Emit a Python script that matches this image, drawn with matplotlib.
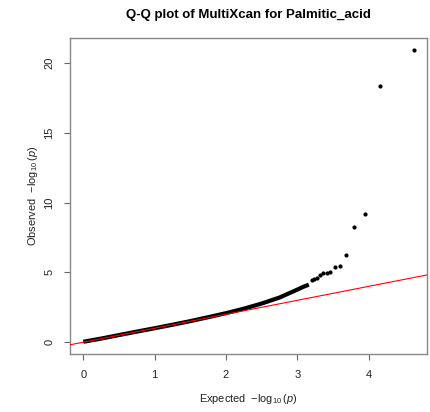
import matplotlib
matplotlib.use("Agg")
import matplotlib.pyplot as plt

plt.rcParams['font.family'] = ['Liberation Sans', 'DejaVu Sans']
plt.rcParams['mathtext.fontset'] = 'custom'
plt.rcParams['mathtext.rm'] = 'Liberation Sans'
plt.rcParams['mathtext.it'] = 'Liberation Sans:italic'

title = "Q-Q plot of MultiXcan for Palmitic_acid"

# dense body of the Q-Q curve (expected, observed -log10 p)
body_expected = [0.0, 0.25, 0.5, 0.75, 1.0, 1.25, 1.5, 1.75, 2.0, 2.25, 2.5, 2.75, 3.0, 3.08, 3.16]
body_observed = [0.03, 0.26, 0.51, 0.76, 1.0, 1.25, 1.51, 1.79, 2.08, 2.40, 2.77, 3.20, 3.77, 3.96, 4.12]

# sparse tail points
tail_expected = [3.20, 3.23, 3.27, 3.31, 3.36, 3.41, 3.46, 3.52, 3.60, 3.68, 3.79, 3.94, 4.16, 4.63]
tail_observed = [4.46, 4.50, 4.58, 4.79, 4.93, 4.98, 5.05, 5.38, 5.48, 6.24, 8.23, 9.15, 18.38, 20.95]

x_ticks = [0, 1, 2, 3, 4]
y_ticks = [0, 5, 10, 15, 20]

fig = plt.figure(figsize=(4.30, 4.12), dpi=100)
ax = fig.add_axes([0.163, 0.141, 0.830, 0.767])

ax.plot(body_expected, body_observed, color='black', lw=3.0,
        solid_capstyle='butt', zorder=2)
ax.plot(tail_expected, tail_observed, 'o', color='black', markersize=3.0,
        markeredgewidth=0, zorder=2)
ax.axline((0, 0), slope=1, color='red', lw=0.8, zorder=3)

xmax = max(tail_expected)
ymax = max(tail_observed)
ax.set_xlim(-0.04 * xmax, xmax * 1.04)
ax.set_ylim(-0.04 * ymax, ymax * 1.04)

ax.set_xticks(x_ticks)
ax.set_yticks(y_ticks)
ax.set_yticklabels([str(t) for t in y_ticks], rotation=90, va='center', ha='right')
ax.tick_params(direction='out', length=4.3, width=0.8, color='#666666',
               labelsize=8, labelcolor='#222222')
ax.tick_params(axis='x', pad=7)
ax.tick_params(axis='y', pad=7)
for s in ax.spines.values():
    s.set_color('#888888')
    s.set_linewidth(1.0)

ax.set_xlabel(r'Expected  $-\log_{10}(p)$', fontsize=7.9, labelpad=9, color='#222222')
ax.set_ylabel(r'Observed  $-\log_{10}(p)$', fontsize=7.9, labelpad=3, color='#222222')
ax.set_title(title, fontsize=9.5, fontweight='bold', pad=14)

fig.savefig("out.png", dpi=100)
